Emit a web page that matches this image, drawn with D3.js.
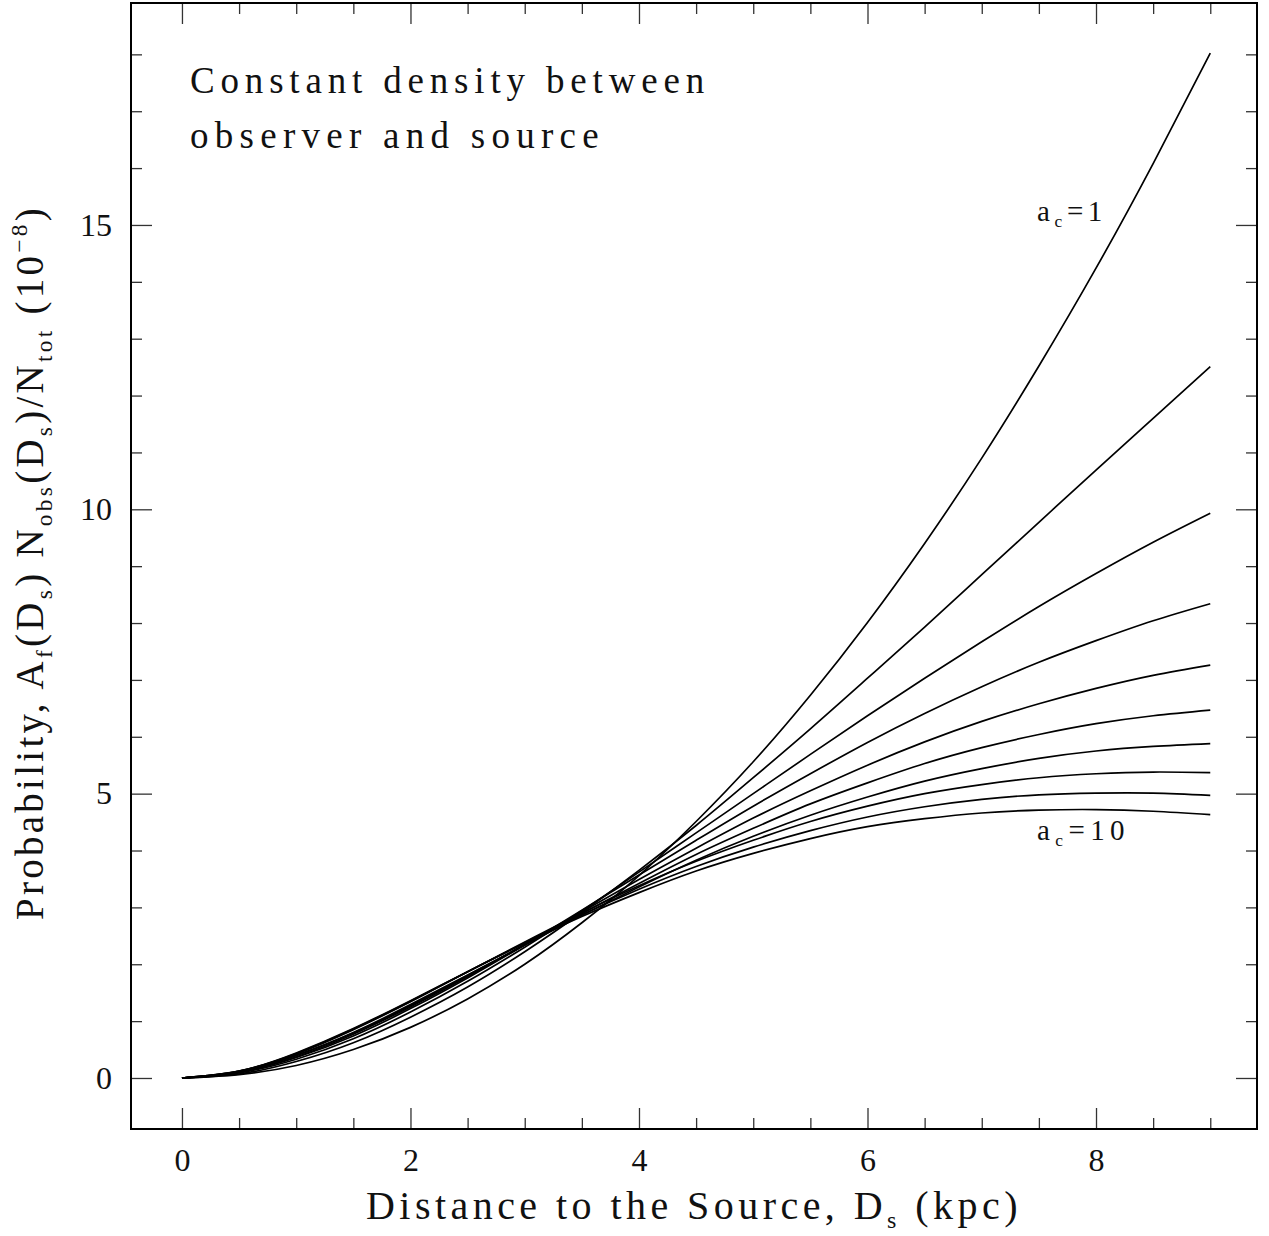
<!DOCTYPE html>
<html>
<head>
<meta charset="utf-8">
<script src="https://cdn.jsdelivr.net/npm/d3@7"></script>
<style>
  body { margin: 0; background: #fff; }
  svg text { font-family: "Liberation Serif", "DejaVu Serif", serif; fill: #111; }
</style>
</head>
<body>
<svg id="chart"></svg>
<script>
// distance to the source (kpc)
var distance = [0, 0.5, 1, 1.5, 2, 2.5, 3, 3.5, 4, 4.5, 5, 5.5, 6, 6.5, 7, 7.5, 8, 8.5, 9]

// probability (10^-8), one list per a_c
var prob_ac1  = [0, 0.06, 0.22, 0.50, 0.89, 1.39, 2.00, 2.73, 3.56, 4.51, 5.56, 6.73, 8.01, 9.40, 10.90, 12.52, 14.24, 16.08, 18.02]
var prob_ac2  = [0, 0.07, 0.29, 0.62, 1.07, 1.60, 2.22, 2.91, 3.65, 4.44, 5.28, 6.14, 7.03, 7.93, 8.85, 9.77, 10.69, 11.60, 12.51]
var prob_ac3  = [0, 0.09, 0.33, 0.69, 1.16, 1.70, 2.30, 2.94, 3.62, 4.31, 5.00, 5.69, 6.37, 7.03, 7.67, 8.29, 8.87, 9.42, 9.93]
var prob_ac4  = [0, 0.10, 0.36, 0.74, 1.22, 1.76, 2.34, 2.95, 3.57, 4.18, 4.78, 5.35, 5.90, 6.41, 6.88, 7.31, 7.69, 8.04, 8.34]
var prob_ac5  = [0, 0.10, 0.37, 0.77, 1.25, 1.78, 2.35, 2.92, 3.49, 4.04, 4.57, 5.05, 5.50, 5.91, 6.27, 6.58, 6.85, 7.08, 7.26]
var prob_ac6  = [0, 0.11, 0.39, 0.79, 1.27, 1.80, 2.34, 2.89, 3.42, 3.93, 4.39, 4.82, 5.19, 5.53, 5.81, 6.04, 6.23, 6.37, 6.47]
var prob_ac7  = [0, 0.11, 0.40, 0.80, 1.29, 1.81, 2.34, 2.86, 3.36, 3.83, 4.25, 4.62, 4.94, 5.22, 5.44, 5.62, 5.75, 5.83, 5.88]
var prob_ac8  = [0, 0.12, 0.42, 0.85, 1.34, 1.87, 2.39, 2.90, 3.38, 3.81, 4.18, 4.51, 4.78, 5.00, 5.16, 5.28, 5.35, 5.38, 5.37]
var prob_ac9  = [0, 0.12, 0.43, 0.86, 1.35, 1.87, 2.38, 2.87, 3.32, 3.72, 4.06, 4.35, 4.59, 4.77, 4.90, 4.98, 5.01, 5.01, 4.97]
var prob_ac10 = [0, 0.12, 0.44, 0.87, 1.36, 1.87, 2.37, 2.84, 3.26, 3.64, 3.95, 4.21, 4.42, 4.56, 4.66, 4.71, 4.72, 4.69, 4.63]

var xMajor = [0, 2, 4, 6, 8]
var xMinor = [0.5, 1, 1.5, 2.5, 3, 3.5, 4.5, 5, 5.5, 6.5, 7, 7.5, 8.5, 9]
var yMajor = [0, 5, 10, 15]
var yMinor = [1, 2, 3, 4, 6, 7, 8, 9, 11, 12, 13, 14, 16, 17, 18]

var allSeries = [prob_ac1, prob_ac2, prob_ac3, prob_ac4, prob_ac5,
                 prob_ac6, prob_ac7, prob_ac8, prob_ac9, prob_ac10]

var width = 1269,
    height = 1236

var frame = { left: 131, right: 1257, top: 3, bottom: 1129 }

var svg = d3.select("#chart")
    .attr("width", width)
    .attr("height", height)

svg.append("rect")
    .attr("width", width)
    .attr("height", height)
    .attr("fill", "white")

var x = d3.scaleLinear()
    .domain([-0.446, 9.409])
    .range([frame.left, frame.right])

var y = d3.scaleLinear()
    .domain([-0.897, 18.903])
    .range([frame.bottom, frame.top])

// ticks on all four sides, pointing inwards
function tickAxis(axis, ticks, size, labels) {
    return axis.tickValues(ticks)
        .tickSize(-size)
        .tickPadding(19)
        .tickFormat(labels ? d3.format("d") : "")
}

function drawAxis(axisFn, transform, ticks, size, labels) {
    var g = svg.append("g")
        .attr("transform", transform)
        .call(tickAxis(axisFn, ticks, size, labels))
    g.select(".domain").remove()
    g.selectAll("line").attr("stroke", "#333").attr("stroke-width", 1.3)
    g.selectAll("text")
        .style("font-family", '"Liberation Serif", serif')
        .style("font-size", "32px")
        .attr("fill", "#111")
    return g
}

drawAxis(d3.axisBottom(x), "translate(0," + frame.bottom + ")", xMajor, 21, true)
drawAxis(d3.axisBottom(x), "translate(0," + frame.bottom + ")", xMinor, 11, false)
drawAxis(d3.axisTop(x), "translate(0," + frame.top + ")", xMajor, 21, false)
drawAxis(d3.axisTop(x), "translate(0," + frame.top + ")", xMinor, 11, false)
drawAxis(d3.axisLeft(y), "translate(" + frame.left + ",0)", yMajor, 21, true)
drawAxis(d3.axisLeft(y), "translate(" + frame.left + ",0)", yMinor, 11, false)
drawAxis(d3.axisRight(y), "translate(" + frame.right + ",0)", yMajor, 21, false)
drawAxis(d3.axisRight(y), "translate(" + frame.right + ",0)", yMinor, 11, false)

// frame
svg.append("rect")
    .attr("x", frame.left)
    .attr("y", frame.top)
    .attr("width", frame.right - frame.left)
    .attr("height", frame.bottom - frame.top)
    .attr("fill", "none")
    .attr("stroke", "black")
    .attr("stroke-width", 2)

// curves
var line = d3.line()
    .x(function (d, i) { return x(distance[i]) })
    .y(function (d) { return y(d) })
    .curve(d3.curveNatural)

svg.append("g")
    .selectAll("path")
    .data(allSeries)
    .enter()
    .append("path")
    .attr("d", line)
    .attr("fill", "none")
    .attr("stroke", "black")
    .attr("stroke-width", 1.7)

// text with sub / superscripts, stretched to the width seen in the figure
function richText(parent, parts, size, targetWidth) {
    var t = parent.append("text").style("font-size", size + "px")
    var shift = 0
    parts.forEach(function (p) {
        var want = p.sub ? size * 0.22 : (p.sup ? -size * 0.42 : 0)
        var ts = t.append("tspan").text(p.t).attr("dy", want - shift)
        if (p.sub || p.sup) ts.style("font-size", (size * 0.6) + "px")
        shift = want
    })
    if (targetWidth) {
        var natural = t.node().getComputedTextLength()
        var n = parts.reduce(function (a, p) { return a + p.t.length }, 0)
        t.style("letter-spacing", ((targetWidth - natural) / n) + "px")
    }
    return t
}

richText(svg, [{ t: "Constant density between" }], 37, 520)
    .attr("x", 190).attr("y", 93)
richText(svg, [{ t: "observer and source" }], 37, 415)
    .attr("x", 190).attr("y", 148)

var xTitle = richText(svg, [
    { t: "Distance to the Source, D" }, { t: "s", sub: true }, { t: " (kpc)" }
], 40, 656)
xTitle.attr("x", 366).attr("y", 1219)

var yTitle = richText(svg, [
    { t: "Probability, A" }, { t: "f", sub: true }, { t: "(D" }, { t: "s", sub: true },
    { t: ") N" }, { t: "obs", sub: true }, { t: "(D" }, { t: "s", sub: true },
    { t: ")/N" }, { t: "tot", sub: true }, { t: " (10" }, { t: "\u22128", sup: true }, { t: ")" }
], 39, 715)
yTitle.attr("transform", "translate(43,920) rotate(-90)")

richText(svg, [{ t: "a" }, { t: "c", sub: true }, { t: "=1" }], 29, 70)
    .attr("x", 1037).attr("y", 221)
richText(svg, [{ t: "a" }, { t: "c", sub: true }, { t: "=10" }], 29, 93)
    .attr("x", 1037).attr("y", 840)
</script>
</body>
</html>
